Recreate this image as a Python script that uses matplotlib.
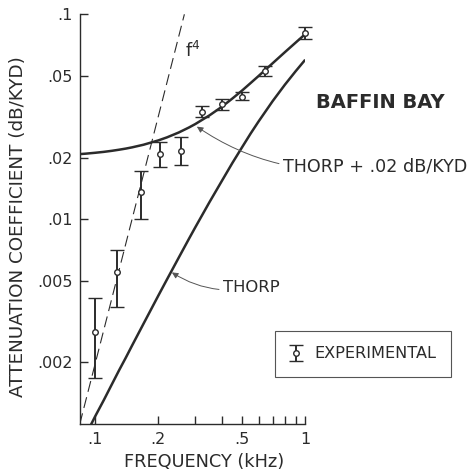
import numpy as np
import matplotlib.pyplot as plt
from matplotlib.ticker import FixedLocator, FixedFormatter, NullLocator

plt.rcParams['font.family'] = ['DejaVu Sans']
plt.rcParams['mathtext.default'] = 'regular'

INK = '#2b2b2b'

# Experimental points (kHz, dB/kyd) with lower / upper error limits
exp_freq = [0.100, 0.127, 0.166, 0.204, 0.257, 0.323, 0.403, 0.501, 0.645, 1.00]
exp_val = [0.0028, 0.0055, 0.0135, 0.0207, 0.0216, 0.0334, 0.0366, 0.0395, 0.0528, 0.081]
exp_lo = [0.00167, 0.00374, 0.0100, 0.0179, 0.0183, 0.0316, 0.0342, 0.0382, 0.0500, 0.0757]
exp_hi = [0.00414, 0.00708, 0.0171, 0.0237, 0.0253, 0.0357, 0.0387, 0.0418, 0.0558, 0.0865]

# Thorp curve read along its length
thorp_freq = [0.085, 0.09, 0.10, 0.11, 0.12, 0.13, 0.14, 0.15, 0.17, 0.20, 0.22, 0.25,
              0.28, 0.30, 0.35, 0.40, 0.45, 0.50, 0.55, 0.60, 0.70, 0.80, 0.90, 1.00]
thorp_val = [0.00079, 0.00088, 0.00109, 0.00131, 0.00156, 0.00183, 0.00211, 0.00242,
             0.00309, 0.00424, 0.00509, 0.00649, 0.00804, 0.00914, 0.0121, 0.0153,
             0.0188, 0.0224, 0.0262, 0.0300, 0.0377, 0.0453, 0.0527, 0.0600]
excess = 0.02

# f^4 reference line end points
f4_freq = [0.0845, 0.266]
f4_val = [0.001, 0.1]

x_ticks = [0.1, 0.2, 0.5, 1.0]
x_labels = ['.1', '.2', '.5', '1']
x_minor = [0.3, 0.4, 0.6, 0.7, 0.8, 0.9]
y_ticks = [0.002, 0.005, 0.01, 0.02, 0.05, 0.1]
y_labels = ['.002', '.005', '.01', '.02', '.05', '.1']

fig = plt.figure(figsize=(4.71, 4.76), dpi=100)
ax = fig.add_axes([0.170, 0.109, 0.478, 0.861])
ax.set_xscale('log')
ax.set_yscale('log')
ax.set_xlim(0.0848, 1.0)
ax.set_ylim(0.001, 0.1)

for s in ['top', 'right']:
    ax.spines[s].set_visible(False)
for s in ['left', 'bottom']:
    ax.spines[s].set_color(INK)
    ax.spines[s].set_linewidth(1.0)

ax.xaxis.set_major_locator(FixedLocator(x_ticks))
ax.xaxis.set_major_formatter(FixedFormatter(x_labels))
ax.xaxis.set_minor_locator(FixedLocator(x_minor))
ax.yaxis.set_major_locator(FixedLocator(y_ticks))
ax.yaxis.set_major_formatter(FixedFormatter(y_labels))
ax.yaxis.set_minor_locator(NullLocator())
ax.tick_params(which='both', direction='in', length=6, width=1.0, color=INK,
               labelsize=11.5, labelcolor=INK)
ax.tick_params(axis='x', which='major', pad=6)
ax.tick_params(axis='y', which='major', pad=5.5)

# curves
thorp = np.array(thorp_val)
ax.plot(thorp_freq, thorp, color=INK, lw=1.8, solid_capstyle='butt')
ax.plot(thorp_freq, thorp + excess, color=INK, lw=1.8, solid_capstyle='butt')
ax.plot(f4_freq, f4_val, color=INK, lw=0.8, dashes=(10, 5))

# experimental data
yerr = [np.array(exp_val) - np.array(exp_lo), np.array(exp_hi) - np.array(exp_val)]
ax.errorbar(exp_freq, exp_val, yerr=yerr, fmt='o', ms=4, mfc='white', mec=INK,
            mew=1.0, ecolor=INK, elinewidth=1.4, capsize=5, capthick=1.2,
            clip_on=False, zorder=5, label='EXPERIMENTAL')

# labels
ax.text(0.268, 0.066, 'f$^{4}$', fontsize=12.5, color=INK, ha='left', va='center')
ax.text(2.27, 0.037, 'BAFFIN BAY', fontsize=14, fontweight='bold', color=INK,
        ha='center', va='center', clip_on=False)

ax.annotate('THORP + .02 dB/KYD', xy=(0.305, 0.0283), xytext=(0.785, 0.0181),
            fontsize=12.6, color=INK, ha='left', va='center', annotation_clip=False,
            arrowprops=dict(arrowstyle='-|>', color='#555555', lw=0.7,
                            mutation_scale=9, shrinkA=1, shrinkB=0,
                            connectionstyle='arc3,rad=-0.2'))
ax.annotate('THORP', xy=(0.232, 0.0055), xytext=(0.407, 0.00462),
            fontsize=11.8, color=INK, ha='left', va='center',
            arrowprops=dict(arrowstyle='-|>', color='#555555', lw=0.7,
                            mutation_scale=9, shrinkA=1, shrinkB=0,
                            connectionstyle='arc3,rad=-0.2'))

ax.set_xlabel('FREQUENCY (kHz)', fontsize=12.8, color=INK, va='center')
ax.xaxis.set_label_coords(0.551, -0.093)
ax.set_ylabel('ATTENUATION COEFFICIENT (dB/KYD)', fontsize=13.2, color=INK, va='center')
ax.yaxis.set_label_coords(-0.276, 0.483)

leg = ax.legend(loc='center', bbox_to_anchor=(363 / 471, 1 - 354 / 476),
                bbox_transform=fig.transFigure, frameon=True, fancybox=False,
                fontsize=11.6, handlelength=0.8, handletextpad=0.7,
                borderpad=0.95, labelcolor=INK)
leg.get_frame().set_edgecolor(INK)
leg.get_frame().set_linewidth(0.8)

fig.savefig('out.png', dpi=100, facecolor='white')
